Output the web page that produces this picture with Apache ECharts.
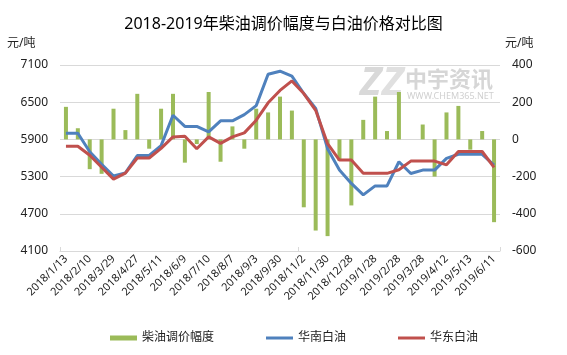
<!DOCTYPE html>
<html>
<head>
<meta charset="utf-8">
<script src="https://cdn.jsdelivr.net/npm/echarts@6/dist/echarts.min.js"></script>
<style>html,body{margin:0;padding:0;background:#fff;}#c{width:567px;height:355px;}</style>
</head>
<body>
<div id="c"></div>
<script>
var categories = ['2018/1/13','2018/1/26','2018/2/10','2018/3/15','2018/3/29','2018/4/13','2018/4/27','2018/5/4','2018/5/11','2018/5/25','2018/6/9','2018/6/25','2018/7/10','2018/7/24','2018/8/7','2018/8/21','2018/9/3','2018/9/17','2018/9/30','2018/10/19','2018/11/2','2018/11/16','2018/11/30','2018/12/14','2018/12/28','2019/1/14','2019/1/28','2019/2/18','2019/2/28','2019/3/14','2019/3/28','2019/4/1','2019/4/12','2019/4/26','2019/5/13','2019/5/27','2019/6/11'];
var dieselAdjust = [175,60,-160,-185,165,50,245,-50,165,245,-125,-25,255,-120,70,-50,165,145,230,155,-365,-490,-520,-115,-355,105,230,45,255,0,80,-200,145,180,-55,45,-445];
var southWhiteOil = [6000,6000,5700,5500,5310,5360,5640,5640,5800,6290,6110,6110,6020,6200,6200,6300,6445,6950,7000,6920,6640,6400,5750,5405,5190,5005,5150,5150,5540,5350,5405,5405,5595,5660,5660,5660,5485];
var eastWhiteOil = [5790,5790,5645,5450,5260,5355,5600,5600,5755,5940,5950,5750,5940,5835,5940,6005,6210,6490,6690,6843,6640,6370,5830,5567,5567,5353,5353,5353,5410,5550,5550,5550,5490,5705,5705,5705,5450];
var leftTicks = [4100,4700,5300,5900,6500,7100];
var seriesNames = ['柴油调价幅度','华南白油','华东白油'];
var titleText = '2018-2019年柴油调价幅度与白油价格对比图';
var unitText = '元/吨';

var FONT = "'Noto Sans','Noto Sans CJK SC',sans-serif";
var LINE_ICON = 'path://M0,0H27V3H0Z';
var chart = echarts.init(document.getElementById('c'), null, {renderer:'canvas'});
chart.setOption({
  animation:false,
  backgroundColor:'#fff',
  title:{text:titleText,left:'center',top:11,textStyle:{fontFamily:FONT,fontSize:16,fontWeight:'normal',color:'#000'}},
  grid:{left:60,right:67,top:65,bottom:104},
  legend:{
    left:105,top:327,itemWidth:27,itemHeight:5,itemGap:52,
    textStyle:{fontFamily:FONT,fontSize:12,color:'#222'},
    data:[
      {name:seriesNames[0],icon:'rect'},
      {name:seriesNames[1],icon:LINE_ICON,itemStyle:{color:'#4f81bd'}},
      {name:seriesNames[2],icon:LINE_ICON,itemStyle:{color:'#c0504d'}}
    ]
  },
  graphic:[
    {type:'text',left:7,top:38,style:{text:unitText,font:'12px '+FONT,fill:'#222'}},
    {type:'text',left:505,top:38,style:{text:unitText,font:'12px '+FONT,fill:'#222'}},
    {type:'text',left:360,top:64,z:-1,style:{text:'Z',font:'italic bold 40px '+FONT,fill:'#d9d9d9'}},
    {type:'text',left:382,top:64,z:-1,style:{text:'Z',font:'italic bold 40px '+FONT,fill:'#e0e0e0'}},
    {type:'text',left:405,top:70,z:-1,style:{text:'中宇资讯',font:'bold 22px '+FONT,fill:'#d6d6d6'}},
    {type:'text',left:407,top:92,z:-1,style:{text:'WWW.CHEM365.NET',font:'9px '+FONT,fill:'#d0d0d0'}}
  ],
  xAxis:{
    type:'category',data:categories,boundaryGap:true,
    axisLine:{onZero:false,lineStyle:{color:'#d9d9d9'}},
    axisTick:{show:true,inside:true,length:4,interval:function(i){return i%20===0;},lineStyle:{color:'#d9d9d9'}},
    axisLabel:{interval:1,rotate:45,margin:6,fontFamily:FONT,fontSize:11,color:'#222'}
  },
  yAxis:[
    {type:'value',min:4100,max:7100,position:'left',
      axisLine:{show:false},axisTick:{show:false},splitLine:{show:false},
      axisLabel:{customValues:leftTicks,formatter:function(v){return String(v);},margin:12,fontFamily:FONT,fontSize:12,color:'#222'}},
    {type:'value',min:-600,max:400,interval:200,position:'right',
      axisLine:{show:false},axisTick:{show:false},
      splitLine:{lineStyle:{color:'#d9d9d9',width:1}},
      axisLabel:{margin:12,fontFamily:FONT,fontSize:12,color:'#222'}}
  ],
  series:[
    {name:seriesNames[0],type:'bar',yAxisIndex:1,data:dieselAdjust,barWidth:4,itemStyle:{color:'#9bbb59'}},
    {name:seriesNames[1],type:'line',yAxisIndex:0,data:southWhiteOil,symbol:'none',showSymbol:false,lineStyle:{color:'#4f81bd',width:3},itemStyle:{color:'#4f81bd'}},
    {name:seriesNames[2],type:'line',yAxisIndex:0,data:eastWhiteOil,symbol:'none',showSymbol:false,lineStyle:{color:'#c0504d',width:3},itemStyle:{color:'#c0504d'}}
  ]
});
</script>
</body>
</html>
